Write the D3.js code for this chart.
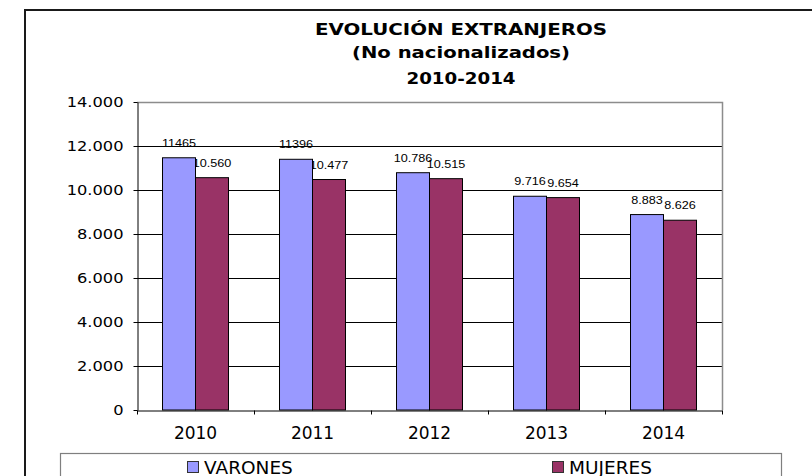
<!DOCTYPE html>
<html>
<head>
<meta charset="utf-8">
<script src="https://d3js.org/d3.v7.min.js"></script>
<style>
  body { margin: 0; background: #fff; }
  svg { display: block; }
</style>
</head>
<body>
<div id="plot"></div>
<script>
// chart data
const years = ["2010", "2011", "2012", "2013", "2014"];
const series = ["VARONES", "MUJERES"];
const varones = [11465, 11396, 10786, 9716, 8883];
const mujeres = [10560, 10477, 10515, 9654, 8626];
const varonesLabels = ["11465", "11396", "10.786", "9.716", "8.883"];
const mujeresLabels = ["10.560", "10.477", "10.515", "9.654", "8.626"];
const yTicks = [0, 2000, 4000, 6000, 8000, 10000, 12000, 14000];
const titleLines = ["EVOLUCIÓN EXTRANJEROS", "(No nacionalizados)", "2010-2014"];

const colors = {VARONES: "#9999FF", MUJERES: "#993366"};
const W = 812, H = 476;
const plot = {left: 137, right: 722, top: 102, bottom: 410};

const svg = d3.select("#plot").append("svg")
    .attr("width", W)
    .attr("height", H);

// outer chart border (runs off the picture on right and bottom)
svg.append("rect")
    .attr("x", 25).attr("y", 10)
    .attr("width", 900).attr("height", 600)
    .attr("fill", "#fff")
    .attr("stroke", "#1a1a1a")
    .attr("stroke-width", 2);

// title
const titleBase = [35, 58.3, 84.3];
const titleLen = [292, 218, 109];
titleLines.forEach((t, i) => {
  svg.append("text")
      .attr("x", 461)
      .attr("y", titleBase[i])
      .attr("text-anchor", "middle")
      .attr("font-family", "DejaVu Sans")
      .attr("font-weight", "bold")
      .attr("font-size", 16)
      .attr("textLength", titleLen[i])
      .attr("lengthAdjust", "spacingAndGlyphs")
      .attr("fill", "#000")
      .text(t);
});

// scales
const x0 = d3.scaleBand()
    .domain(years)
    .range([plot.left, plot.right])
    .padding(0);

const x1 = d3.scaleBand()
    .domain(series)
    .range([0, x0.bandwidth()])
    .paddingInner(0)
    .paddingOuter(0.773);

const y = d3.scaleLinear()
    .domain([0, 14000])
    .range([plot.bottom, plot.top]);

const fmt = d3.formatLocale({decimal: ",", thousands: ".", grouping: [3], currency: ["", ""]}).format(",");

// gridlines
svg.append("g")
  .selectAll("line")
  .data(yTicks.filter(d => d > 0 && d < 14000))
  .join("line")
    .attr("x1", plot.left).attr("x2", plot.right)
    .attr("y1", d => Math.round(y(d)) + 0.5)
    .attr("y2", d => Math.round(y(d)) + 0.5)
    .attr("stroke", "#000")
    .attr("stroke-width", 1);

// plot area border top + right (gray)
svg.append("path")
    .attr("d", `M${plot.left},${plot.top + 0.5}H${plot.right + 0.5}V${plot.bottom}`)
    .attr("fill", "none")
    .attr("stroke", "#8c8c8c")
    .attr("stroke-width", 1.5);

// rows for bars and labels
const rows = years.map((yr, i) => ({
  year: yr,
  values: [
    {key: "VARONES", value: varones[i], label: varonesLabels[i]},
    {key: "MUJERES", value: mujeres[i], label: mujeresLabels[i]}
  ]
}));

// data labels (drawn first, bars overlap them like the original)
const lab = svg.append("g")
  .selectAll("g")
  .data(rows.flatMap(r => r.values.map(v => ({year: r.year, ...v}))))
  .join("g")
    .attr("transform", d => `translate(${x0(d.year) + x1(d.key) + x1.bandwidth() / 2},${y(d.value) - 11})`);

lab.append("text")
    .attr("text-anchor", "middle")
    .attr("transform", "scale(1.15,1)")
    .attr("font-family", "Liberation Sans")
    .attr("font-size", 11)
    .attr("fill", "#000")
    .text(d => d.label);

// bars
svg.append("g")
  .selectAll("g")
  .data(rows)
  .join("g")
    .attr("transform", d => `translate(${x0(d.year)},0)`)
  .selectAll("rect")
  .data(d => d.values)
  .join("rect")
    .attr("x", d => x1(d.key))
    .attr("y", d => y(d.value))
    .attr("width", x1.bandwidth())
    .attr("height", d => y(0) - y(d.value))
    .attr("fill", d => colors[d.key])
    .attr("stroke", "#000")
    .attr("stroke-width", 1);

// y axis
const yAxis = svg.append("g")
    .attr("transform", `translate(${plot.left + 0.5},0)`)
    .call(d3.axisLeft(y).tickValues(yTicks).tickSize(4).tickSizeOuter(0).tickFormat(fmt))
    .attr("font-family", "DejaVu Sans")
    .attr("font-size", 14);
yAxis.select(".domain").attr("stroke", "#000");
yAxis.selectAll(".tick line").attr("stroke", "#000");
yAxis.selectAll(".tick text")
    .attr("fill", "#000")
    .attr("x", -14 / 1.16)
    .attr("transform", "scale(1.16,1)");

// x axis
const xAxis = svg.append("g")
    .attr("transform", `translate(0,${plot.bottom + 0.5})`)
    .call(d3.axisBottom(x0).tickSize(0).tickSizeOuter(0).tickPadding(16))
    .attr("font-family", "DejaVu Sans")
    .attr("font-size", 17);
xAxis.select(".domain").attr("stroke", "#000");
xAxis.selectAll(".tick text").attr("fill", "#000");

// category boundary ticks
xAxis.append("g")
  .selectAll("line")
  .data(years.map(d => x0(d)).concat([x0.range()[1]]))
  .join("line")
    .attr("x1", d => Math.round(d) + 0.5).attr("x2", d => Math.round(d) + 0.5)
    .attr("y1", 0).attr("y2", 4)
    .attr("stroke", "#000");

// legend
const legendX = 60, legendY = 453.5;
svg.append("rect")
    .attr("x", legendX + 0.5).attr("y", legendY)
    .attr("width", 721).attr("height", 100)
    .attr("fill", "#fff")
    .attr("stroke", "#7f7f7f")
    .attr("stroke-width", 1.2);

const items = svg.append("g")
  .selectAll("g")
  .data(series)
  .join("g")
    .attr("transform", (d, i) => `translate(${legendX + 127 + i * 365},0)`);

items.append("rect")
    .attr("x", 0.5).attr("y", 461.5)
    .attr("width", 11).attr("height", 11)
    .attr("fill", d => colors[d])
    .attr("stroke", "#333")
    .attr("stroke-width", 1);

items.append("text")
    .attr("x", 17)
    .attr("y", 473.5)
    .attr("font-family", "DejaVu Sans")
    .attr("font-size", 18.5)
    .attr("fill", "#000")
    .text(d => d);
</script>
</body>
</html>
